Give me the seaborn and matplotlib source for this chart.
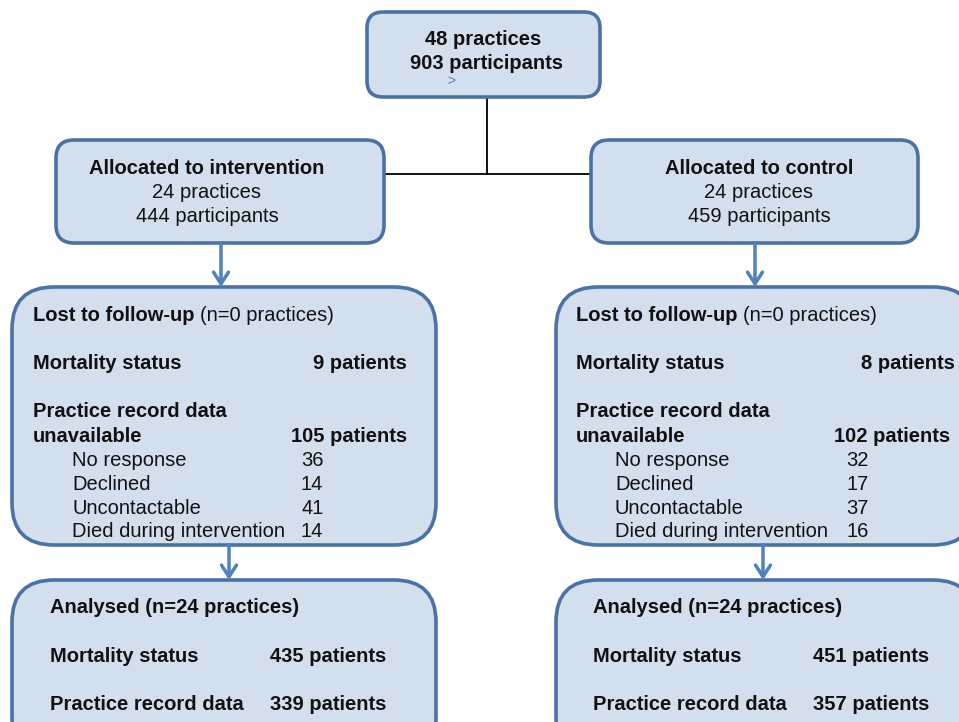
import matplotlib
matplotlib.use("Agg")
import matplotlib.pyplot as plt
from matplotlib.patches import FancyBboxPatch
import seaborn as sns

# ---- data ----
total_practices = 48
total_participants = 903
arms = ["intervention", "control"]
arm_practices = [24, 24]
arm_participants = [444, 459]
lost_practices = [0, 0]
lost_mortality = [9, 8]
lost_records = [105, 102]
reason_labels = ["No response", "Declined", "Uncontactable", "Died during intervention"]
reasons_intervention = [36, 14, 41, 14]
reasons_control = [32, 17, 37, 16]
analysed_practices = [24, 24]
analysed_mortality = [435, 451]
analysed_records = [339, 357]

sns.set_theme(style="white")
plt.rcParams["font.family"] = ["Liberation Sans", "DejaVu Sans"]

W, H = 959, 722
fig = plt.figure(figsize=(W / 100, H / 100), dpi=100)
ax = fig.add_axes([0, 0, 1, 1])
ax.set_xlim(0, W)
ax.set_ylim(H, 0)
ax.axis("off")

FILL = "#D4DFEE"
EDGE = "#4A72A6"
TXT = "#111111"
ARROW = "#4F81BD"
FS = 14.5
DY = 2.5


def box(x0, y0, x1, y1, r):
    p = FancyBboxPatch((x0, y0), x1 - x0, y1 - y0,
                       boxstyle=f"round,pad=0,rounding_size={r}",
                       fc=FILL, ec=EDGE, lw=2.6, zorder=2)
    ax.add_patch(p)


def t(x, y, s, bold=False, ha="left"):
    ax.text(x, y + DY, s, fontsize=FS, fontweight="bold" if bold else "normal",
            ha=ha, va="center", color=TXT, zorder=5)


def arrow(x, y0, y1):
    ax.annotate("", xy=(x, y1), xytext=(x, y0),
                arrowprops=dict(arrowstyle="->,head_length=0.7,head_width=0.45",
                                color=ARROW, lw=2.5, shrinkA=0, shrinkB=0),
                zorder=3)


# connector lines
ax.plot([487, 487], [97, 174], color="black", lw=1.3, zorder=1)
ax.plot([384, 591], [174, 174], color="black", lw=1.3, zorder=1)

# top box
box(367, 12, 600, 97, 16)
t(483, 37, f"{total_practices} practices", bold=True, ha="center")
t(487, 61, f"{total_participants} participants", bold=True, ha="center")
ax.text(451, 74.5, ">", fontsize=10, color=ARROW, ha="center", va="top", zorder=5)

# layout per arm
alloc_x = [(56, 384), (591, 918)]
alloc_cx = [207, 759]
lost_x = [(12, 436), (556, 975)]
left_x = [33, 576]
num_right = [407, 955]
num_right2 = [407, 950]
sub_x = [72, 615]
sub_num_x = [301, 846]
arrow1_x = [221, 755]
arrow2_x = [229, 763]
an_left = [50, 593]
an_num = [270, 813]
paren_x = [200, 743]
reasons = [reasons_intervention, reasons_control]

for i, arm in enumerate(arms):
    xa0, xa1 = alloc_x[i]
    box(xa0, 140, xa1, 243, 18)
    t(alloc_cx[i], 166, f"Allocated to {arm}", bold=True, ha="center")
    t(alloc_cx[i], 190, f"{arm_practices[i]} practices", ha="center")
    t(alloc_cx[i], 214, f"{arm_participants[i]} participants", ha="center")

    arrow(arrow1_x[i], 243, 287)

    xl0, xl1 = lost_x[i]
    box(xl0, 287, xl1, 545, 42)
    t(left_x[i], 313, "Lost to follow-up", bold=True)
    t(paren_x[i], 313, f"(n={lost_practices[i]} practices)")
    t(left_x[i], 361, "Mortality status", bold=True)
    t(num_right[i], 361, f"{lost_mortality[i]} patients", bold=True, ha="right")
    t(left_x[i], 409, "Practice record data", bold=True)
    t(left_x[i], 434, "unavailable", bold=True)
    t(num_right2[i], 434, f"{lost_records[i]} patients", bold=True, ha="right")
    for j, lab in enumerate(reason_labels):
        y = 458 + j * 23.8
        t(sub_x[i], y, lab)
        t(sub_num_x[i], y, f"{reasons[i][j]}")

    arrow(arrow2_x[i], 545, 580)

    box(xl0, 580, xl1, 760, 42)
    t(an_left[i], 605, f"Analysed (n={analysed_practices[i]} practices)", bold=True)
    t(an_left[i], 654, "Mortality status", bold=True)
    t(an_num[i], 654, f"{analysed_mortality[i]} patients", bold=True)
    t(an_left[i], 702, "Practice record data", bold=True)
    t(an_num[i], 702, f"{analysed_records[i]} patients", bold=True)

fig.savefig("out.png", dpi=100, facecolor="white")
